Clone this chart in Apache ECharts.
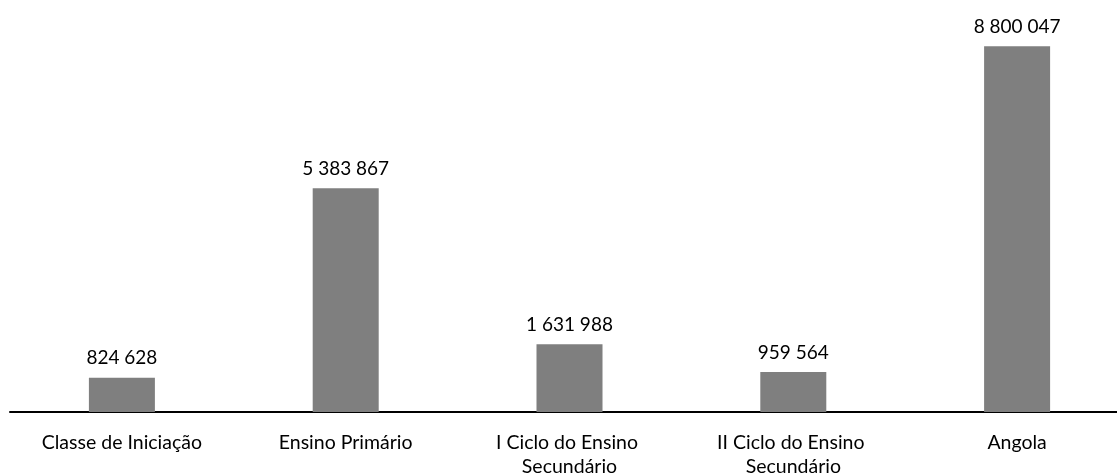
<!DOCTYPE html>
<html>
<head>
<meta charset="utf-8">
<script src="https://cdn.jsdelivr.net/npm/echarts@6/dist/echarts.min.js"></script>
<style>
  html, body { margin: 0; padding: 0; background: #fff; }
  #main { width: 1117px; height: 475px; }
</style>
</head>
<body>
<div id="main"></div>
<script>
var categories = ['Classe de Iniciação', 'Ensino Primário', 'I Ciclo do Ensino Secundário', 'II Ciclo do Ensino Secundário', 'Angola'];
var values = [824628, 5383867, 1631988, 959564, 8800047];

function fmt(v) {
    return String(v).replace(/\B(?=(\d{3})+(?!\d))/g, ' ');
}

var myChart = echarts.init(document.getElementById('main'));
var option = {
    animation: false,
    textStyle: { fontFamily: 'Lato' },
    grid: { left: 10, right: -12, top: 38, bottom: 63, outerBoundsMode: 'none' },
    xAxis: {
        type: 'category',
        data: categories,
        axisLine: { lineStyle: { color: '#000', width: 2 } },
        axisTick: { show: false },
        axisLabel: {
            color: '#000',
            fontSize: 19.5,
            margin: 19,
            width: 190,
            overflow: 'break',
            lineHeight: 24,
            interval: 0
        }
    },
    yAxis: {
        type: 'value',
        min: 0,
        max: 9000000,
        show: false,
        splitLine: { show: false }
    },
    series: [{
        type: 'bar',
        data: values,
        barWidth: 66,
        itemStyle: { color: '#7f7f7f' },
        label: {
            show: true,
            position: 'top',
            distance: 10,
            color: '#000',
            fontSize: 19,
            formatter: function (p) { return fmt(p.value); }
        }
    }]
};
myChart.setOption(option);
</script>
</body>
</html>
